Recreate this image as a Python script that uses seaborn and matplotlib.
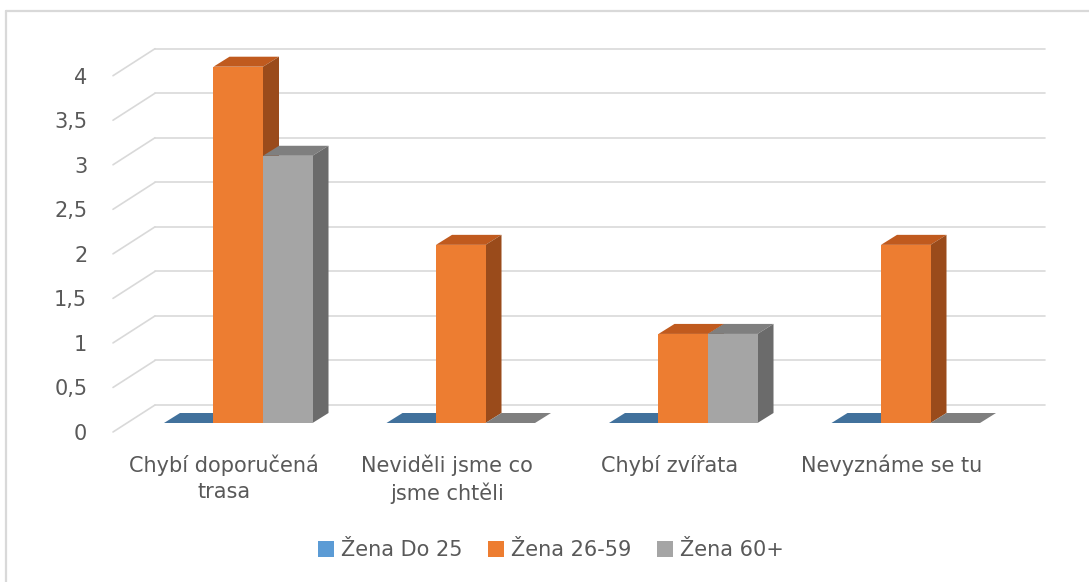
import numpy as np
import pandas as pd
import seaborn as sns
import matplotlib.pyplot as plt
from matplotlib.patches import Polygon, Patch
from matplotlib.lines import Line2D
from matplotlib.transforms import ScaledTranslation

# data
categories = ["Chybí doporučená\ntrasa", "Neviděli jsme co\njsme chtěli",
              "Chybí zvířata", "Nevyznáme se tu"]
series = ["Žena Do 25", "Žena 26-59", "Žena 60+"]
zena_do25 = [0, 0, 0, 0]
zena_26_59 = [4, 2, 1, 2]
zena_60 = [3, 0, 1, 0]
yticks = [0, 0.5, 1, 1.5, 2, 2.5, 3, 3.5, 4]
ytick_labels = ["0", "0,5", "1", "1,5", "2", "2,5", "3", "3,5", "4"]

front_col = ["#5B9BD5", "#ED7D31", "#A5A5A5"]
top_col = ["#41719C", "#C05A1E", "#7F7F7F"]
side_col = ["#3A6690", "#9A4B1B", "#6B6B6B"]
grid_col = "#D9D9D9"
text_col = "#595959"

df = pd.DataFrame({
    "kategorie": categories * 3,
    "skupina": np.repeat(series, len(categories)),
    "pocet": zena_do25 + zena_26_59 + zena_60,
})

sns.set_style("white")
plt.rcParams["font.family"] = ["DejaVu Sans"]

W, H = 1089, 582
fig = plt.figure(figsize=(W / 100, H / 100), dpi=100)
# axes = the plane of the bar fronts
ax = fig.add_axes([127 / W, (H - 423) / H, 890 / W, (423 - 66.7) / H])
ax.set_xlim(-0.5, 3.5)
ax.set_ylim(0, 4)

xpp = 4 / 890.0          # data units per pixel
ypp = 4 / (423 - 66.7)

sns.barplot(data=df, x="kategorie", y="pocet", hue="skupina", palette=front_col,
            width=0.6675, gap=0, saturation=1, errorbar=None, legend=False, ax=ax)

# oblique 3d look
dx, dy = 16 * xpp, 10 * ypp           # bar depth
fx, fy = -14 * xpp, -9 * ypp          # front edge of floor
bx, by = 28 * xpp, 18 * ypp           # back wall

for i, cont in enumerate(ax.containers):
    for rect in cont:
        x0 = rect.get_x()
        x1 = x0 + rect.get_width()
        h = rect.get_height()
        z = 2 + x0
        rect.set_zorder(z + 0.01)
        rect.set_clip_on(False)
        rect.set_linewidth(0)
        top = Polygon([(x0, h), (x1, h), (x1 + dx, h + dy), (x0 + dx, h + dy)],
                      closed=True, facecolor=top_col[i], edgecolor="none",
                      zorder=z, clip_on=False)
        ax.add_patch(top)
        if h > 0:
            side = Polygon([(x1, 0), (x1 + dx, dy), (x1 + dx, h + dy), (x1, h)],
                           closed=True, facecolor=side_col[i], edgecolor="none",
                           zorder=z, clip_on=False)
            ax.add_patch(side)

for y in yticks:
    ax.plot([-0.5 + bx, 3.5 + bx], [y + by, y + by], color=grid_col, lw=1.2,
            zorder=1, clip_on=False)
    ax.plot([-0.5 + fx, -0.5 + bx], [y + fy, y + by], color=grid_col, lw=1.2,
            zorder=1, clip_on=False)

sns.despine(ax=ax, left=True, bottom=True)
ax.set_xlabel("")
ax.set_ylabel("")
ax.set_yticks(yticks)
ax.set_yticklabels(ytick_labels)
ax.tick_params(axis="y", length=0, pad=18.5, labelsize=15, labelcolor=text_col)
ax.tick_params(axis="x", length=0, pad=23, labelsize=15, labelcolor=text_col)
for lbl in ax.get_xticklabels():
    lbl.set_linespacing(1.35)

shift = ScaledTranslation(-0.14, -0.09, fig.dpi_scale_trans)
for lbl in ax.get_yticklabels():
    lbl.set_transform(lbl.get_transform() + shift)
shift_x = ScaledTranslation(-0.14, 0, fig.dpi_scale_trans)
for lbl in ax.get_xticklabels():
    lbl.set_transform(lbl.get_transform() + shift_x)

handles = [Patch(facecolor=c, edgecolor="none") for c in front_col]
fig.legend(handles, series, loc="center", bbox_to_anchor=(551 / W, 1 - 550 / H),
           ncol=3, frameon=False, fontsize=15, labelcolor=text_col,
           handlelength=0.78, handleheight=0.78, handletextpad=0.35,
           columnspacing=1.2)

# chart border (top and left edges visible)
fig.add_artist(Line2D([6 / W, 1], [1 - 11 / H, 1 - 11 / H], color=grid_col,
                      lw=1.6, transform=fig.transFigure))
fig.add_artist(Line2D([6 / W, 6 / W], [0, 1 - 11 / H], color=grid_col,
                      lw=1.6, transform=fig.transFigure))

fig.savefig("out.png", dpi=100)
